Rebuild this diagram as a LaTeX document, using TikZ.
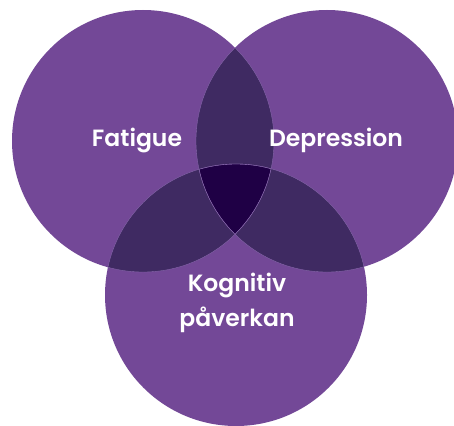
\documentclass[tikz,border=0pt]{standalone}
\usepackage{fontspec}
\setmainfont{Poppins}[UprightFont=* SemiBold]
\definecolor{vmain}{HTML}{734897}
\definecolor{vpair}{HTML}{3F2A62}
\definecolor{vtriple}{HTML}{1F0045}
\definecolor{vedge}{HTML}{8A6AAE}
\begin{document}
\begin{tikzpicture}[x=1pt,y=-1pt,
  lbl/.style={text=white,font=\fontsize{23.5}{35}\selectfont,align=center,inner sep=0pt},
  rim/.style={draw=vedge,line width=0.35pt}]
\useasboundingbox (0,0) rectangle (454,425);
\coordinate (L) at (143,141);
\coordinate (R) at (327,141);
\coordinate (B) at (236,295);
\def\rr{131}
\fill[vmain] (L) circle (\rr);
\fill[vmain] (R) circle (\rr);
\fill[vmain] (B) circle (\rr);
\begin{scope}\clip (L) circle (\rr); \fill[vpair] (R) circle (\rr); \end{scope}
\begin{scope}\clip (L) circle (\rr); \fill[vpair] (B) circle (\rr); \end{scope}
\begin{scope}\clip (R) circle (\rr); \fill[vpair] (B) circle (\rr); \end{scope}
\begin{scope}\clip (L) circle (\rr); \clip (R) circle (\rr); \fill[vtriple] (B) circle (\rr); \end{scope}
\begin{scope}\clip (L) circle (\rr); \draw[rim] (R) circle (\rr); \draw[rim] (B) circle (\rr); \end{scope}
\begin{scope}\clip (R) circle (\rr); \draw[rim] (L) circle (\rr); \draw[rim] (B) circle (\rr); \end{scope}
\begin{scope}\clip (B) circle (\rr); \draw[rim] (L) circle (\rr); \draw[rim] (R) circle (\rr); \end{scope}
\node[lbl] (fat) at (137,140) {Fatigue};
\node[lbl] (dep) at (336,140) {Depression};
\node[lbl] (kog) at (237,303) {Kognitiv\\påverkan};
\end{tikzpicture}
\end{document}
